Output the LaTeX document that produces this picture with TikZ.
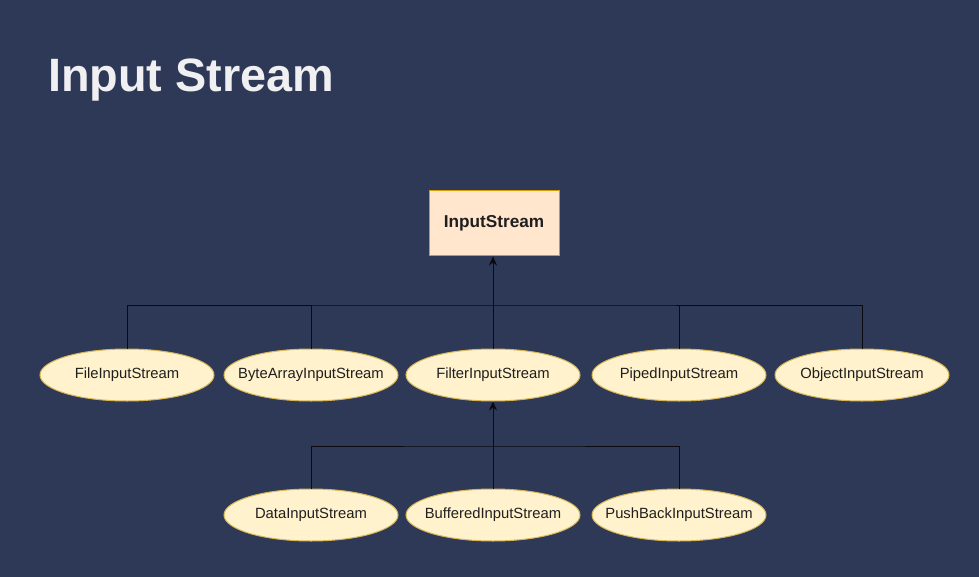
\documentclass[tikz,border=0pt]{standalone}
\usepackage{fontspec}
\setmainfont{Liberation Sans}
\usetikzlibrary{shapes.geometric,arrows.meta}
\definecolor{bg}{RGB}{46,56,87}
\definecolor{boxfill}{HTML}{FFE6CC}
\definecolor{boxdraw}{HTML}{D79B00}
\definecolor{ellfill}{HTML}{FFF2CC}
\definecolor{elldraw}{HTML}{D6B656}
\definecolor{title}{RGB}{240,240,242}
\definecolor{wire}{RGB}{10,10,15}
\newcommand{\zlbl}[1]{\makebox[0pt]{\raisebox{-2pt}{#1}}}
\begin{document}
\begin{tikzpicture}[x=1pt,y=-1pt,
  rootbox/.style={draw=boxdraw,fill=boxfill,line width=1pt,minimum width=130pt,minimum height=65pt,inner sep=0pt,font=\fontsize{17.2}{19}\selectfont\bfseries,text=black!88},
  cls/.style={ellipse,draw=elldraw,fill=ellfill,line width=1pt,minimum width=174pt,minimum height=52pt,inner sep=0pt,font=\fontsize{14.8}{17}\selectfont,text=black!88},
  wireline/.style={draw=wire,line width=0.9pt},
  arr/.style={wireline,-{Stealth[length=9pt,width=8pt]}}]
\fill[bg] (0,0) rectangle (979,577);
\useasboundingbox (0,0) rectangle (979,577);
\node[anchor=base west,text=title,font=\fontsize{46.8}{48}\selectfont\bfseries,inner sep=0pt] (ttl) at (48,92) {Input Stream};
\node[rootbox] (is) at (494,223.5) {\raisebox{-1.5pt}{InputStream}};
\node[cls] (fis) at (127,375) {\zlbl{FileInputStream}};
\node[cls] (bais) at (311,375) {\zlbl{ByteArrayInputStream}};
\node[cls] (filt) at (493,375) {\zlbl{FilterInputStream}};
\node[cls] (pis) at (679,375) {\zlbl{PipedInputStream}};
\node[cls] (ois) at (862,375) {\zlbl{ObjectInputStream}};
\node[cls] (dis) at (311,515) {\zlbl{DataInputStream}};
\node[cls] (bis) at (493,515) {\zlbl{BufferedInputStream}};
\node[cls] (pbis) at (679,515) {\zlbl{PushBackInputStream}};
\coordinate (j1) at (493,305);
\coordinate (j2) at (493,446);
\draw[wireline] (fis.north) |- (j1) -| (ois.north);
\draw[wireline] (bais.north) -- (bais.north |- j1);
\draw[wireline] (pis.north) -- (pis.north |- j1);
\draw[wireline] (filt.north) -- (j1);
\draw[arr] (j1) -- (j1 |- is.south);
\draw[wireline] (dis.north) |- (j2) -| (pbis.north);
\draw[wireline] (bis.north) -- (j2);
\draw[arr] (j2) -- (filt.south);
\end{tikzpicture}
\end{document}
